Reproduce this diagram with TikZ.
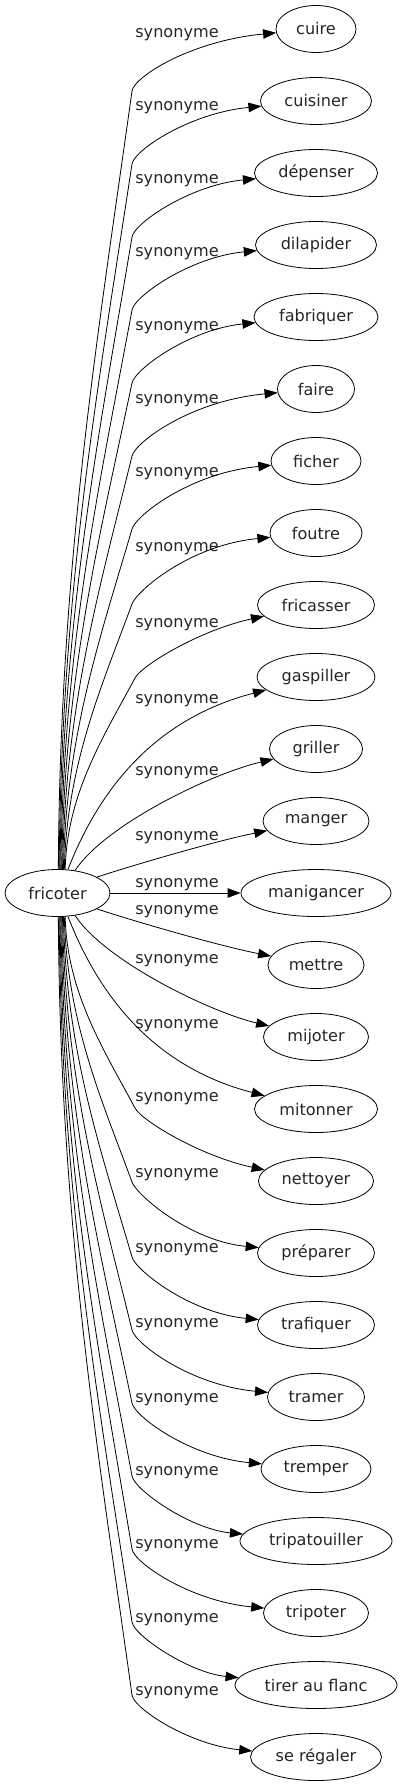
\documentclass[tikz,border=0pt]{standalone}
\usepackage{fontspec}
\newfontfamily\dvs{DejaVu Sans}
\usetikzlibrary{arrows.meta,shapes.geometric}
\begin{document}
\begin{tikzpicture}[x=1pt,y=-1pt,
  every node/.style={font=\dvs\fontsize{16.1}{19}\selectfont, text=black!85},
  word/.style={draw=black, ellipse, line width=0.8pt, minimum height=47pt, inner sep=0pt},
  lbl/.style={inner sep=0pt, anchor=base},
  syn/.style={draw=black, line width=0.8pt, -{Triangle[length=13pt,width=9.5pt]}}]
\useasboundingbox (0,0) rectangle (402,1787);
\node[word, minimum width=105pt] (fr) at (57.5,893) {fricoter};
\foreach \i/\w/\t in {0/80/cuire,1/111/cuisiner,2/123/dépenser,3/121/dilapider,4/124/fabriquer,
  5/77/faire,6/90/ficher,7/92/foutre,8/117/fricasser,9/118/gaspiller,10/93/griller,11/106/manger,
  12/150/manigancer,13/96/mettre,14/105/mijoter,15/123/mitonner,16/115/nettoyer,17/117/préparer,
  18/117/trafiquer,19/97/tramer,20/110/tremper,21/152/tripatouiller,22/105/tripoter,
  23/162/tirer au flanc,24/131/se régaler} {
  \node[word, minimum width=\w pt] (n\i) at (316,29+72*\i) {\t};
}
\foreach \L [count=\k from 0] in {33,106,179,252,325,398,471,546,622,698,770,835,882,
  909,958,1023,1096,1172,1247,1322,1397,1470,1543,1617,1690} {
  \node[lbl] (l\k) at (177,\L+5) {synonyme};
}
\foreach \i/\L in {0/33,1/106,2/179,3/252,4/325,5/398,6/471,7/546} {
  \pgfmathsetmacro\ky{\L+58}
  \pgfmathtruncatemacro\th{88-2*\i}
  \pgfmathtruncatemacro\tm{272+2*\i}
  \pgfmathtruncatemacro\j{24-\i}
  \pgfmathsetmacro\sx{60+\i}
  \pgfmathsetmacro\D{869.5-\ky}
  \pgfmathsetmacro\pay{869.5-0.4*\D}
  \pgfmathsetmacro\dx{0.45*(132-\sx)}
  \pgfmathsetmacro\dy{0.3*\D}
  \pgfmathsetmacro\pbx{132-\dx}
  \pgfmathsetmacro\pby{\ky+\dy}
  \pgfmathsetmacro\len{veclen(\dx,\dy)}
  \pgfmathsetmacro\qax{132+14*\dx/\len}
  \pgfmathsetmacro\qay{\ky-14*\dy/\len}
  \pgfmathsetmacro\ty{29+72*\i+12}
  \draw[syn] (fr.\th) .. controls (\sx,\pay) and (\pbx,\pby) .. (132,\ky) .. controls (\qax,\qay) and (190,\ty) .. (n\i);
  \draw[syn] (fr.\tm) .. controls (\sx,1786-\pay) and (\pbx,1786-\pby) .. (132,1786-\ky) .. controls (\qax,1786-\qay) and (190,1786-\ty) .. (n\j);
}
% fricasser / nettoyer
\draw[syn] (fr.72) .. controls (67,793) and (104,736) .. (135,678) .. controls (141.5,665.5) and (200,630) .. (n8);
\draw[syn] (fr.288) .. controls (67,993) and (104,1050) .. (135,1108) .. controls (141.5,1120.5) and (200,1156) .. (n16);
% gaspiller / mitonner
\draw[syn] (fr.66) .. controls (97,795) and (150,720) .. (n9);
\draw[syn] (fr.294) .. controls (97,991) and (150,1066) .. (n15);
% griller / mijoter
\draw[syn] (fr.52) .. controls (105,825) and (210,774) .. (n10);
\draw[syn] (fr.308) .. controls (105,961) and (210,1012) .. (n14);
% manger / mettre
\draw[syn] (fr.22) .. controls (140,863) and (220,840) .. (n11);
\draw[syn] (fr.338) .. controls (140,923) and (220,946) .. (n13);
% manigancer
\draw[syn] (fr) -- (n12);
\end{tikzpicture}
\end{document}
